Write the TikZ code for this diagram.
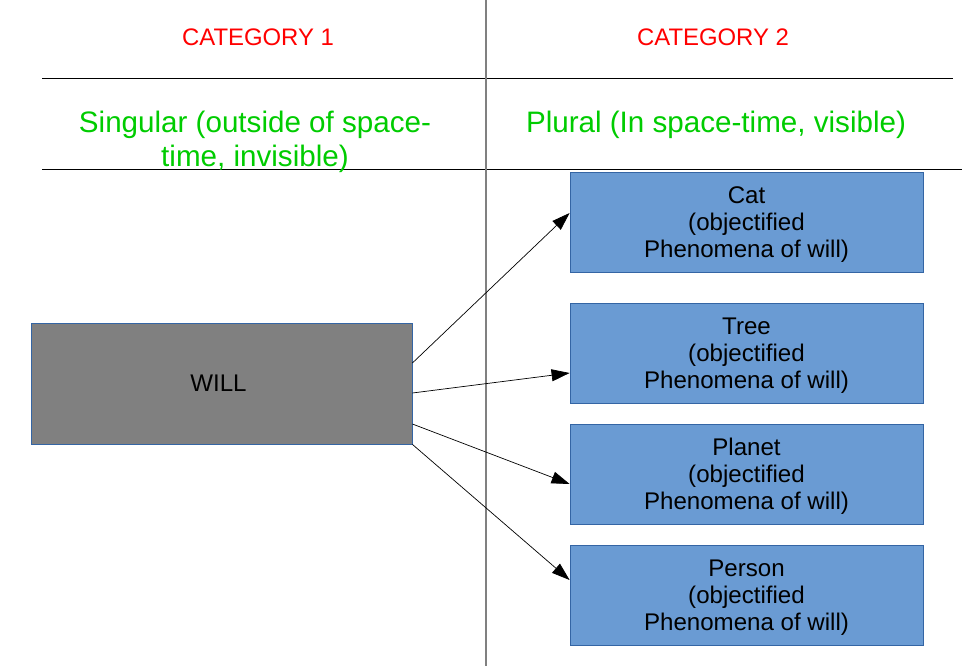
\documentclass[tikz,border=0pt]{standalone}
\usepackage{fontspec}
\setmainfont{Liberation Sans}
\usetikzlibrary{arrows.meta}
\definecolor{boxblue}{HTML}{6A9BD3}
\definecolor{edgeblue}{HTML}{3465A4}
\definecolor{catred}{HTML}{FF0000}
\definecolor{labgreen}{HTML}{00CC00}
\begin{document}
\begin{tikzpicture}[x=1pt,y=-1pt,
  phenbox/.style={draw=edgeblue,line width=0.8pt,fill=boxblue,minimum width=353pt,minimum height=100pt,inner sep=0pt,align=center,text depth=-2pt,font=\fontsize{24.1}{27}\selectfont},
  willbox/.style={draw=edgeblue,line width=0.8pt,fill=black!50,minimum width=381pt,minimum height=121pt,inner sep=0pt,font=\fontsize{24.1}{27}\selectfont},
  cathead/.style={text=catred,font=\fontsize{23.9}{26}\selectfont,anchor=base,inner sep=0pt},
  grnhead/.style={text=labgreen,font=\fontsize{29.6}{33}\selectfont,align=center,inner sep=0pt},
  rule/.style={draw=black,line width=1pt},
  conn/.style={draw=black,line width=0.7pt,-{Triangle[length=18pt,width=12pt]}}
]
\useasboundingbox (0,0) rectangle (977,666);
\fill[white] (0,0) rectangle (977,666);
% grid lines
\coordinate (vtop) at (486,0);
\coordinate (vbot) at (486,666);
\coordinate (h1l) at (42,79);
\coordinate (h1r) at (953,79);
\coordinate (h2l) at (42,169);
\coordinate (h2r) at (962,169);
\draw[rule] (h1l) -- (h1r);
\draw[rule] (h2l) -- (h2r);
\draw[draw=black!50,line width=1.6pt] (vtop) -- (vbot);
% headers
\node[cathead] (c1) at (258,46) {CATEGORY 1};
\node[cathead] (c2) at (713,46) {CATEGORY 2};
\node[grnhead,anchor=base] (g1a) at (255,133) {Singular (outside of space-};
\node[grnhead,anchor=base] (g1b) at (255,166) {time, invisible)};
\node[grnhead,anchor=base] (g2) at (716,133) {Plural (In space-time, visible)};
% boxes
\node[willbox] (will) at (221.5,383.5) {\hspace*{-6pt}WILL};
\node[phenbox] (cat) at (746.5,222) {Cat\\(objectified\\Phenomena of will)};
\node[phenbox] (tree) at (746.5,353) {Tree\\(objectified\\Phenomena of will)};
\node[phenbox] (planet) at (746.5,474) {Planet\\(objectified\\Phenomena of will)};
\node[phenbox] (person) at (746.5,595) {Person\\(objectified\\Phenomena of will)};
% connectors
\draw[conn] ([yshift=20.5pt]will.east) -- ([yshift=9pt]cat.west);
\draw[conn] ([yshift=-9.5pt]will.east) -- ([yshift=-20pt]tree.west);
\draw[conn] ([yshift=-40.5pt]will.east) -- ([yshift=-10pt]planet.west);
\draw[conn] (will.south east) -- ([yshift=15pt]person.west);
\end{tikzpicture}
\end{document}
